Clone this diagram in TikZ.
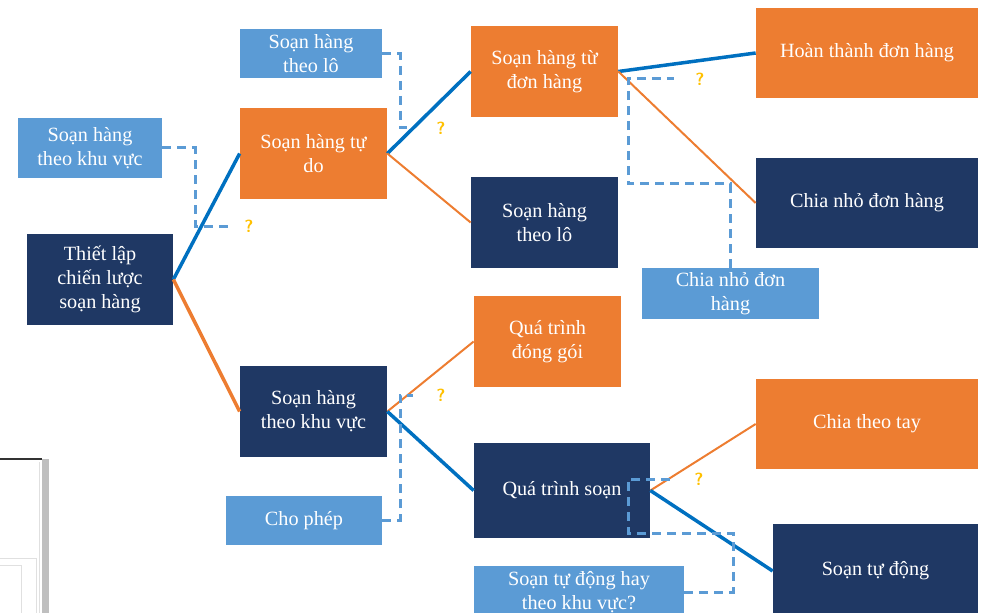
\documentclass[tikz,border=0pt]{standalone}
\usepackage{fontspec}
\setmainfont{Liberation Serif}
\usetikzlibrary{arrows}
\usetikzlibrary{calc}
\definecolor{orangebox}{HTML}{ED7D31}
\definecolor{navybox}{HTML}{1F3864}
\definecolor{lightbox}{HTML}{5B9BD5}
\definecolor{blueline}{HTML}{0070C0}
\definecolor{qmark}{HTML}{FFC000}

\begin{document}
\begin{tikzpicture}[x = 0.2mm, y = -0.2mm,
	sz/.style 2 args = {minimum width = #1*0.2mm, minimum height = #2*0.2mm},
	obox/.style = {fill = orangebox},
	nbox/.style = {fill = navybox},
	lbox/.style = {fill = lightbox},
	yes/.style = {draw = blueline, line width = 0.7mm},
	no/.style = {draw = orangebox, line width = 0.4mm},
	ask/.style = {draw = lightbox, line width = 0.6mm, dash pattern = on 1.8mm off 1.2mm}]
			\useasboundingbox (0, 0) rectangle (983, 613);
			\clip (0, 0) rectangle (983, 613);
			
			% leftover of a screenshot, bottom left
			\fill [black!25] (42, 459) rectangle (49, 613);
			\draw [black!80, line width = 0.3mm] (0, 459) -- (42, 459);
			\draw [black!12] (39, 462) -- (39, 613);
			\draw [black!12] (0, 558) -- (36, 558) -- (36, 613);
			\draw [black!12] (0, 565) -- (21, 565) -- (21, 613);
			
			\begin{scope}[every node/.style = {text = white, align = center, inner sep = 0pt,
				font = \fontsize{11.5}{13.6}\selectfont}]
			\node (lotA) [lbox, sz = {142}{49}] at (311, 53.5) {Soạn hàng\\theo lô};
			\node (kvA) [lbox, sz = {144}{60}] at (90, 148) {Soạn hàng\\theo khu vực};
			\node (root) [nbox, sz = {146}{91}] at (100, 279.5) {Thiết lập\\chiến lược\\soạn hàng};
			\node (tudo) [obox, sz = {147}{91}] at (313.5, 153.5) {Soạn hàng tự\\do};
			\node (donhang) [obox, sz = {147}{91}] at (544.5, 71.5) {Soạn hàng từ\\đơn hàng};
			\node (theolo) [nbox, sz = {147}{91}] at (544.5, 222.5) {Soạn hàng\\theo lô};
			\node (hoanthanh) [obox, sz = {222}{90}] at (867, 53) {Hoàn thành đơn hàng};
			\node (chianho) [nbox, sz = {222}{90}] at (867, 203) {Chia nhỏ đơn hàng};
			\node (chianhoA) [lbox, sz = {177}{51}] at (730.5, 293.5) {Chia nhỏ đơn\\hàng};
			\node (donggoi) [obox, sz = {147}{91}] at (547.5, 341.5) {Quá trình\\đóng gói};
			\node (khuvuc) [nbox, sz = {147}{91}] at (313.5, 411.5) {Soạn hàng\\theo khu vực};
			\node (chophep) [lbox, sz = {156}{49}] at (304, 520.5) {Cho phép};
			\node (qtsoan) [nbox, sz = {176}{95}] at (562, 490.5) {Quá trình soạn};
			\node (chiatay) [obox, sz = {222}{90}] at (867, 424) {Chia theo tay};
			\node (tudong) [nbox, sz = {205}{94}] at (875.5, 571) {Soạn tự động};
			\node (tudongA) [lbox, sz = {210}{52}] at (579, 592) {Soạn tự động hay\\theo khu vực?};
			\end{scope}
			
			\begin{scope}[every node/.style = {text = qmark, inner sep = 0pt,
				font = \sffamily\bfseries\fontsize{10}{11}\selectfont}]
			\node (q1) at (249, 226) {?};
			\node (q2) at (441, 128) {?};
			\node (q3) at (700, 79) {?};
			\node (q4) at (441, 395) {?};
			\node (q5) at (699, 479) {?};
			\end{scope}
			
			\path (root.east) edge [yes] (tudo.west)
			(root.east) edge [no, line width = 0.7mm] (khuvuc.west)
			(tudo.east) edge [yes] (donhang.west)
			(tudo.east) edge [no] (theolo.west)
			(donhang.east) edge [yes] (hoanthanh.west)
			(donhang.east) edge [no] (chianho.west)
			(khuvuc.east) edge [no] (donggoi.west)
			(khuvuc.east) edge [yes] (qtsoan.west)
			(qtsoan.east) edge [no] (chiatay.west)
			(qtsoan.east) edge [yes] (tudong.west);
			
			\draw [ask, shorten >= 3.3mm] (kvA.east) -| (195, 226) -- (q1);
			\draw [ask, shorten >= 5.2mm] (lotA.east) -| (400, 128) -- (q2);
			\draw [ask, shorten >= 4.2mm] (chianhoA.north) |- (628, 184) |- (q3);
			\draw [ask, shorten >= 4.6mm] (chophep.east) -| (400, 395) -- (q4);
			\draw [ask, shorten >= 4.8mm] (tudongA.east) -| (733, 533) -| (628, 479) -- (q5);
			
\end{tikzpicture}
\end{document}
